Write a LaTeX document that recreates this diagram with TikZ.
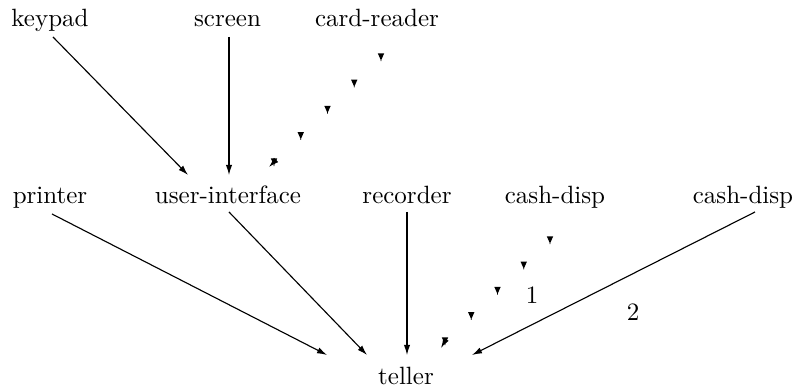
\documentclass[tikz,border=0pt]{standalone}
\usetikzlibrary{arrows.meta,calc}
\begin{document}
\begin{tikzpicture}[x=0.4pt,y=-0.4pt,
  lbl/.style={anchor=base,inner sep=0pt,font=\fontsize{10}{12}\selectfont},
  arr/.style={line width=0.45pt,-{Latex[length=4pt,width=2.5pt]}},
  dtri/.pic={\fill (-1.25pt,1.4pt) -- (1.25pt,1.4pt) -- (0.15pt,-1.1pt) -- (0.15pt,-1.7pt) -- (-0.15pt,-1.7pt) -- (-0.15pt,-1.1pt) -- cycle;}]
\useasboundingbox (0,0) rectangle (801,390);
% nodes
\node[lbl] (kp) at (50,27) {keypad};
\node[lbl] (sc) at (227.5,27) {screen};
\node[lbl] (cr) at (377,27) {card-reader};
\node[lbl] (pr) at (50,204) {printer};
\node[lbl] (ui) at (228,204) {user-interface};
\node[lbl] (rc) at (407,204) {recorder};
\node[lbl] (cda) at (555,204) {cash-disp};
\node[lbl] (cdb) at (743,204) {cash-disp};
\node[lbl] (te) at (406,385) {teller};
\node[lbl,anchor=center] (la) at (532,295) {1};
\node[lbl,anchor=center] (lb) at (633,312) {2};
% solid connectors
\draw[arr] ($(kp.base)+(3,10)$) -- ($(ui.base)+(-40,-29)$);
\draw[arr] ($(sc.base)+(1.5,10)$) -- ($(ui.base)+(1,-29)$);
\draw[arr] ($(pr.base)+(2,10)$) -- ($(te.base)+(-79,-30)$);
\draw[arr] ($(ui.base)+(1,8)$) -- ($(te.base)+(-39,-30)$);
\draw[arr] ($(rc.base)+(0,8)$) -- ($(te.base)+(1,-30)$);
\draw[arr] ($(cdb.base)+(12,8)$) -- ($(te.base)+(66,-30)$);
% dotted connectors (chains of small triangles)
\coordinate (a1) at ($(cr.base)+(4,30)$);
\coordinate (a2) at ($(ui.base)+(46,-42)$);
\coordinate (a3) at ($(ui.base)+(41,-37)$);
\foreach \t in {0,0.25,0.5,0.75,1} \pic at ($(a1)!\t!(a2)$) {dtri};
\draw[arr] ($(a3)!4.1pt!(a2)$) -- (a3);
\coordinate (b1) at ($(cda.base)+(-5,36)$);
\coordinate (b2) at ($(te.base)+(39,-44)$);
\coordinate (b3) at ($(te.base)+(35,-37)$);
\foreach \t in {0,0.25,0.5,0.75,1} \pic at ($(b1)!\t!(b2)$) {dtri};
\draw[arr] ($(b3)!4.1pt!(b2)$) -- (b3);
\end{tikzpicture}
\end{document}
